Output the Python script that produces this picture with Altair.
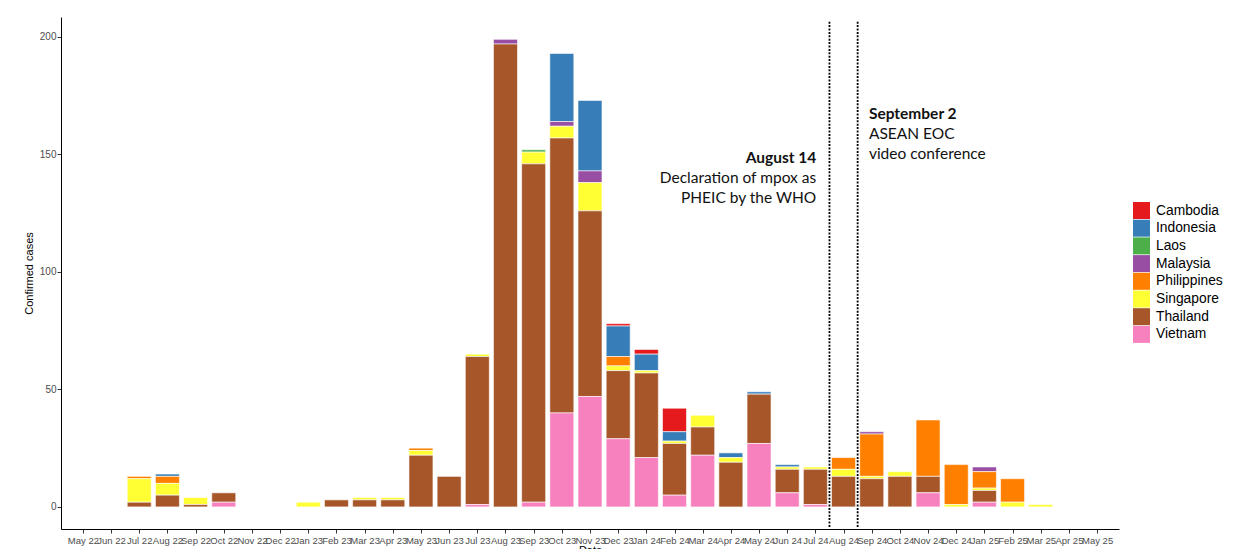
import altair as alt
import pandas as pd

months = ["May 22", "Jun 22", "Jul 22", "Aug 22", "Sep 22", "Oct 22", "Nov 22", "Dec 22",
          "Jan 23", "Feb 23", "Mar 23", "Apr 23", "May 23", "Jun 23", "Jul 23", "Aug 23",
          "Sep 23", "Oct 23", "Nov 23", "Dec 23", "Jan 24", "Feb 24", "Mar 24", "Apr 24",
          "May 24", "Jun 24", "Jul 24", "Aug 24", "Sep 24", "Oct 24", "Nov 24", "Dec 24",
          "Jan 25", "Feb 25", "Mar 25", "Apr 25", "May 25"]

countries = ["Cambodia", "Indonesia", "Laos", "Malaysia", "Philippines", "Singapore", "Thailand", "Vietnam"]
palette = ["#E41A1C", "#377EB8", "#4DAF4A", "#984EA3", "#FF7F00", "#FFFF33", "#A65628", "#F781BF"]

cambodia    = [0,0,0,0,0,0,0,0,0,0, 0,0,0,0,0,0,0,0,0,1, 2,10,0,0,0,0,0,0,0,0, 0,0,0,0,0,0,0]
indonesia   = [0,0,0,1,0,0,0,0,0,0, 0,0,0,0,0,0,0,29,30,13, 7,4,0,2,1,1,0,0,0,0, 0,0,0,0,0,0,0]
laos        = [0,0,0,0,0,0,0,0,0,0, 0,0,0,0,0,0,1,0,0,0, 0,0,0,0,0,0,0,0,0,0, 0,0,0,0,0,0,0]
malaysia    = [0,0,0,0,0,0,0,0,0,0, 0,0,0,0,0,2,0,2,5,0, 0,0,0,0,0,0,0,0,1,0, 0,0,2,0,0,0,0]
philippines = [0,0,1,3,0,0,0,0,0,0, 0,0,1,0,0,0,0,0,0,4, 0,0,0,0,0,0,0,5,18,0, 24,17,7,10,0,0,0]
singapore   = [0,0,10,5,3,0,0,0,2,0, 1,1,2,0,1,0,5,5,12,2, 1,1,5,2,0,1,1,3,1,2, 0,1,1,2,1,0,0]
thailand    = [0,0,2,5,1,4,0,0,0,3, 3,3,22,13,63,197,144,117,79,29, 36,22,12,19,21,10,15,13,12,13, 7,0,5,0,0,0,0]
vietnam     = [0,0,0,0,0,2,0,0,0,0, 0,0,0,0,1,0,2,40,47,29, 21,5,22,0,27,6,1,0,0,0, 6,0,2,0,0,0,0]

series = {"Cambodia": cambodia, "Indonesia": indonesia, "Laos": laos, "Malaysia": malaysia,
          "Philippines": philippines, "Singapore": singapore, "Thailand": thailand, "Vietnam": vietnam}

# event lines (month index positions) and annotation texts
event_x = [26.5, 27.5]
event_top = [206.5, 206.5]
event_bottom = [-8.6, -8.6]

note_x = [26.03, 26.03, 26.03, 27.9, 27.9, 27.9]
note_y = [146.3, 138.0, 129.4, 164.9, 156.7, 148.1]
note_text = ["August 14", "Declaration of mpox as", "PHEIC by the WHO",
             "September 2", "ASEAN EOC", "video conference"]
note_bold = [True, False, False, True, False, False]
note_align = ["right", "right", "right", "left", "left", "left"]

rows = []
for ci, c in enumerate(countries):
    for mi, v in enumerate(series[c]):
        if v > 0:
            rows.append({"idx": mi, "month": months[mi], "country": c, "cases": v,
                         "stack": len(countries) - 1 - ci})
bars_df = pd.DataFrame(rows)
events_df = pd.DataFrame({"x": event_x, "top": event_top, "bottom": event_bottom})
notes_df = pd.DataFrame({"x": note_x, "y": note_y, "text": note_text,
                         "bold": note_bold, "align": note_align})

label_expr = "[" + ",".join("'" + m + "'" for m in months) + "][datum.value]"

xscale = alt.Scale(domain=[-0.6, 36.6], nice=False, zero=False)
yscale = alt.Scale(domain=[-9.4, 208.5], nice=False, zero=False)

xaxis = alt.Axis(values=list(range(len(months))), labelExpr=label_expr,
                 title="Date", grid=False, tickSize=4, tickColor="#333333",
                 domainColor="#000000", labelColor="#4D4D4D", labelFontSize=9.5,
                 labelFont="Liberation Sans", labelOverlap=False, labelPadding=2,
                 labelFlush=False, labelBound=False,
                 titleFont="Liberation Sans", titleFontSize=11,
                 titleFontWeight="normal", titleColor="#000000", titlePadding=0)
yaxis = alt.Axis(values=[0, 50, 100, 150, 200], title="Confirmed cases", grid=False,
                 tickSize=4, tickColor="#333333", domainColor="#000000",
                 labelColor="#4D4D4D", labelFontSize=10, labelFont="Liberation Sans",
                 labelPadding=1, titleFont="Liberation Sans", titleFontSize=11,
                 titleFontWeight="normal", titleColor="#000000", titlePadding=5)

bars = alt.Chart(bars_df).mark_bar(width=24, stroke="white", strokeWidth=0.6).encode(
    x=alt.X("idx:Q", scale=xscale, axis=xaxis),
    y=alt.Y("sum(cases):Q", scale=yscale, stack="zero", axis=yaxis),
    color=alt.Color("country:N", scale=alt.Scale(domain=countries, range=palette),
                    legend=alt.Legend(title=None, orient="none", legendX=1072, legendY=185,
                                      symbolType="square", symbolSize=289, symbolStrokeWidth=0,
                                      labelFontSize=13.8, labelFont="Liberation Sans",
                                      labelColor="#000000", labelOffset=6, rowPadding=0.7,
                                      padding=0)),
    order=alt.Order("stack:Q", sort="ascending"),
)

rules = alt.Chart(events_df).mark_rule(color="#000000", strokeWidth=1.8, strokeDash=[2, 1.4]).encode(
    x=alt.X("x:Q", scale=xscale, axis=xaxis),
    y=alt.Y("top:Q", scale=yscale, axis=yaxis),
    y2="bottom:Q",
)


def note_layer(bold, align):
    return alt.Chart(notes_df).transform_filter(
        f"datum.bold == {'true' if bold else 'false'} && datum.align == '{align}'"
    ).mark_text(font="Lato", fontSize=15.5, fontWeight="bold" if bold else "normal",
                baseline="alphabetic", align=align, color="#111111").encode(
        x=alt.X("x:Q", scale=xscale, axis=xaxis), y=alt.Y("y:Q", scale=yscale, axis=yaxis),
        text="text:N")


notes = [note_layer(b, a) for b in (True, False) for a in ("left", "right")]

chart = alt.layer(bars, rules, *notes).properties(
    width=1058, height=512,
    background="white",
    autosize=alt.AutoSizeParams(type="none"),
    padding={"left": 53, "top": 9, "right": 110, "bottom": 20},
).configure_view(stroke=None).configure_axisX(labelOverlap=False)

chart.save("out.html", embed_options={"renderer": "svg", "actions": False})
